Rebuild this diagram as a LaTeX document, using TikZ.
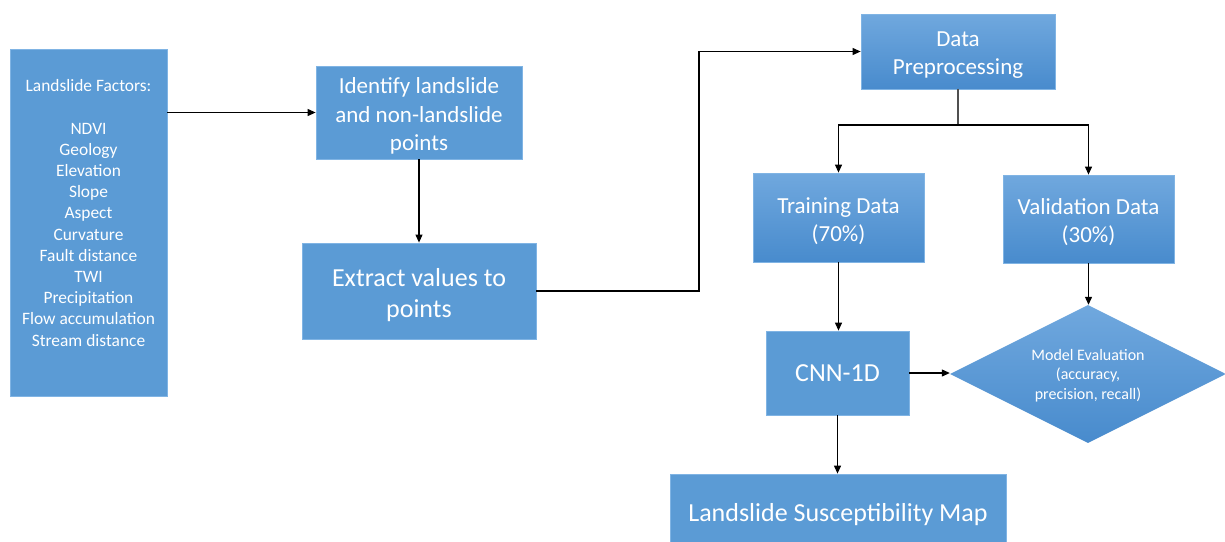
\documentclass[tikz,border=0pt]{standalone}
\usepackage{fontspec}
\setmainfont{Carlito}
\usetikzlibrary{arrows.meta,shapes.geometric}
\definecolor{boxblue}{RGB}{91,155,213}
\definecolor{boxedge}{RGB}{128,180,228}
\definecolor{gtop}{RGB}{112,168,222}
\definecolor{gbot}{RGB}{72,139,205}
\definecolor{splitgray}{RGB}{80,80,80}
\tikzset{
  flatbox/.style={draw=boxedge, line width=0.8pt, fill=boxblue, text=white, align=center, inner sep=0pt},
  gradbox/.style={draw=boxedge, line width=0.8pt, top color=gtop, bottom color=gbot, text=white, align=center, inner sep=0pt},
  boxtext/.style={text=white, align=center, inner sep=0pt},
  arr/.style={-{Triangle[length=8pt,width=7pt]}, line width=1.1pt, black},
  fsmall/.style={font=\fontsize{17.4}{21.2}\selectfont},
  fmid/.style={font=\fontsize{23}{28.2}\selectfont},
  fbig/.style={font=\fontsize{26}{31}\selectfont},
  feval/.style={font=\fontsize{16}{19.5}\selectfont},
}
\begin{document}
\begin{tikzpicture}[x=1pt,y=-1pt]
\useasboundingbox (0,0) rectangle (1225,541);
\fill[white] (0,0) rectangle (1225,541);
\clip (0,0) rectangle (1225,541);

% boxes
\node[flatbox, minimum width=157pt, minimum height=347pt] (factors) at (88.5,222.5) {};
\node[flatbox, minimum width=206pt, minimum height=93pt] (ident) at (419,112.5) {};
\node[flatbox, minimum width=234pt, minimum height=96pt] (extract) at (419,291) {};
\node[gradbox, minimum width=194pt, minimum height=75pt] (prep) at (958,51.5) {};
\node[gradbox, minimum width=171pt, minimum height=89pt] (train) at (838.5,217.5) {};
\node[gradbox, minimum width=171pt, minimum height=88pt] (valid) at (1088.5,219) {};
\node[flatbox, fbig, minimum width=143pt, minimum height=84pt] (cnn) at (837.5,373) {CNN-1D};
\node[diamond, aspect=2, draw=none, top color=gtop, bottom color=gbot, inner sep=0pt, minimum width=276pt, minimum height=138pt] (eval) at (1088,374) {};
\node[flatbox, minimum width=336pt, minimum height=76pt] (map) at (838,512) {};

% texts
\node[boxtext, fsmall] (factext) at (88.5,213) {Landslide Factors:\\[21.2pt]NDVI\\Geology\\Elevation\\Slope\\Aspect\\Curvature\\Fault distance\\TWI\\Precipitation\\Flow accumulation\\Stream distance};
\node[boxtext, fmid] (identtext) at (419,116) {Identify landslide\\and non-landslide\\points};
\node[boxtext, fbig] (extracttext) at (419,295) {Extract values to\\points};
\node[boxtext, fmid] (preptext) at (958,55) {Data\\Preprocessing};
\node[boxtext, fmid] (traintext) at (838.5,221) {Training Data\\(70\%)};
\node[boxtext, fmid] (validtext) at (1088.5,222.5) {Validation Data\\(30\%)};
\node[boxtext, feval] (evaltext) at (1088,375.5) {Model Evaluation\\(accuracy,\\precision, recall)};
\node[boxtext, fbig] (maptext) at (838,515) {Landslide Susceptibility Map};

% connectors
\coordinate (bend) at (699,291);
\coordinate (split) at (958,125);
\draw[arr] (ident.west -| factors.east) -- (ident.west);
\draw[arr] (ident.south) -- (extract.north);
\draw[arr] (extract.east) -- (bend) |- (prep.west);
\draw[line width=1.1pt, splitgray] (prep.south) -- (split);
\draw[arr] (split) -| (train.north);
\draw[arr] (split) -| (valid.north);
\draw[arr] (train.south) -- (train.south |- cnn.north);
\draw[arr] (valid.south) -- (valid.south |- eval.north);
\draw[arr] (cnn.east) -- (cnn.east -| eval.west);
\draw[arr] (cnn.south) -- (cnn.south |- map.north);
\end{tikzpicture}
\end{document}
